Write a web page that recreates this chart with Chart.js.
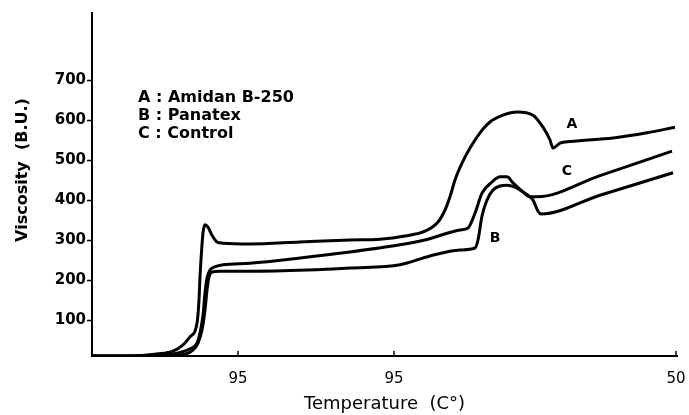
<!DOCTYPE html>
<html>
<head>
<meta charset="utf-8">
<script src="https://cdn.jsdelivr.net/npm/chart.js@4/dist/chart.umd.min.js"></script>
<style>
  body { margin: 0; background: #fff; }
</style>
</head>
<body>
<canvas id="chart" width="689" height="415"></canvas>
<script>
// time axis in arbitrary units (amylograph run)
const amidanX = [0, 7.6, 13, 16.2, 18.2, 19.6, 21, 21.4, 21.6, 22, 22.2, 22.6, 23.2, 24, 25, 26.2, 31.6, 41.6, 51.6, 57.6, 62.6, 66.6, 69.2, 70.6, 71.6, 72.6, 74, 75.6, 77.6, 79.6, 82.2, 85, 88.2, 90.2, 91.6, 92.2, 93.6, 95.6, 104.2, 111, 116.6];
const amidanY = [10, 10, 15, 22, 38, 58, 92, 150, 208, 288, 318, 338, 332, 312, 295, 292, 290, 295, 300, 302, 310, 322, 345, 375, 408, 450, 492, 530, 568, 595, 612, 620, 612, 582, 550, 530, 542, 546, 555, 568, 582];

const panatexX = [0, 11.6, 17.6, 20.2, 21.2, 22, 22.6, 23, 23.4, 24, 25.6, 31.6, 43, 51.6, 61.6, 67.6, 73.6, 76.6, 77.2, 78, 79, 80.2, 81.6, 83, 84.6, 86.2, 87.6, 88.2, 89.2, 89.8, 101.6, 116.2];
const panatexY = [10, 10, 12, 25, 42, 75, 125, 175, 208, 220, 222, 222, 225, 230, 238, 260, 275, 280, 300, 360, 400, 425, 435, 437, 432, 420, 408, 400, 372, 365, 412, 468];

const controlX = [0, 9.6, 16.2, 19.6, 21, 21.6, 22.2, 22.6, 23, 23.6, 24.4, 26.2, 31.6, 41.6, 51.6, 61.6, 66.6, 73.6, 75.2, 76.6, 78, 80, 81.6, 83, 84.2, 86.2, 87.6, 89, 101.6, 116];
const controlY = [10, 10, 15, 28, 42, 68, 112, 168, 205, 225, 232, 238, 242, 255, 270, 288, 300, 325, 330, 367, 417, 445, 458, 458, 443, 420, 408, 408, 461, 522];

const xTickValues = [29.2, 60.4, 116.8];
const xTickLabels = ['95', '95', '50'];
const yTickValues = [100, 200, 300, 400, 500, 600, 700];

const legendLines = ['A : Amidan B-250', 'B : Panatex', 'C : Control'];
const curveLetters = ['A', 'B', 'C'];
const yTitle = 'Viscosity  (B.U.)';

const toPoints = (xs, ys) => xs.map((x, i) => ({ x: x, y: ys[i] }));

const lineStyle = {
  borderColor: '#000',
  borderWidth: 3,
  pointRadius: 0,
  cubicInterpolationMode: 'monotone',
  fill: false,
};

// where the letter tags sit, in data units
const letterSpots = { A: [96, 590], B: [80.6, 305], C: [95, 472] };

const annotate = {
  id: 'annotate',
  afterDraw(chart) {
    const ctx = chart.ctx;
    const xs = chart.scales.x;
    const ys = chart.scales.y;
    const area = chart.chartArea;
    ctx.save();
    // x ticks point up into the plot
    ctx.strokeStyle = '#000';
    ctx.lineWidth = 1.5;
    xTickValues.forEach(v => {
      const px = xs.getPixelForValue(v);
      ctx.beginPath();
      ctx.moveTo(px, area.bottom);
      ctx.lineTo(px, area.bottom - 5);
      ctx.stroke();
    });
    ctx.fillStyle = '#000';
    ctx.font = 'bold 16px "DejaVu Sans"';
    ctx.textBaseline = 'alphabetic';
    legendLines.forEach((t, i) => {
      ctx.fillText(t, area.left + 46, area.top + 89 + i * 18);
    });
    ctx.font = 'bold 14px "DejaVu Sans"';
    ctx.textAlign = 'center';
    ctx.textBaseline = 'middle';
    curveLetters.forEach(k => {
      const s = letterSpots[k];
      ctx.fillText(k, xs.getPixelForValue(s[0]), ys.getPixelForValue(s[1]));
    });
    // y title, sits a bit above the middle of the axis
    ctx.translate(23, 170);
    ctx.rotate(-Math.PI / 2);
    ctx.font = 'bold 16px "DejaVu Sans"';
    ctx.fillText(yTitle, 0, 0);
    ctx.restore();
  }
};

new Chart(document.getElementById('chart'), {
  type: 'line',
  data: {
    datasets: [
      Object.assign({ label: 'Amidan B-250', data: toPoints(amidanX, amidanY) }, lineStyle),
      Object.assign({ label: 'Panatex', data: toPoints(panatexX, panatexY) }, lineStyle),
      Object.assign({ label: 'Control', data: toPoints(controlX, controlY) }, lineStyle),
    ],
  },
  options: {
    responsive: false,
    animation: false,
    layout: { padding: { top: 13, right: 12, bottom: 0, left: 0 } },
    plugins: {
      legend: { display: false },
      tooltip: { enabled: false },
    },
    scales: {
      x: {
        type: 'linear',
        min: 0,
        max: 117,
        afterFit: s => {
          s.height = 59;
          s.paddingLeft = 0;
          s.paddingRight = 0;
        },
        afterBuildTicks: s => { s.ticks = xTickValues.map(v => ({ value: v })); },
        ticks: {
          padding: 14,
          color: '#000',
          font: { family: 'DejaVu Sans', size: 15 },
          maxRotation: 0,
          callback: (v, i) => xTickLabels[i],
        },
        grid: { display: false, drawTicks: false },
        border: { display: true, color: '#000', width: 2 },
        title: {
          display: true,
          text: 'Temperature  (C°)',
          color: '#000',
          font: { family: 'DejaVu Sans', size: 18 },
          padding: { top: 0, bottom: 0 },
        },
      },
      y: {
        min: 10,
        max: 867.5,
        afterFit: s => { s.width = 92; },
        afterBuildTicks: s => { s.ticks = yTickValues.map(v => ({ value: v })); },
        ticks: {
          padding: 1,
          color: '#000',
          font: { family: 'DejaVu Sans', size: 15, weight: 'bold' },
        },
        grid: { drawOnChartArea: false, tickLength: 5, color: '#000', tickWidth: 1.5 },
        border: { display: true, color: '#000', width: 2 },
      },
    },
  },
  plugins: [annotate],
});
</script>
</body>
</html>
